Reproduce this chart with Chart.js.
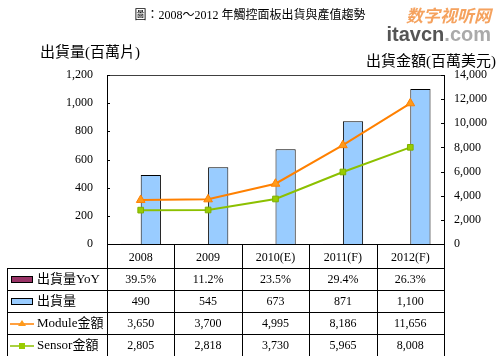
<!DOCTYPE html>
<html>
<head>
<meta charset="utf-8">
<script src="https://cdn.jsdelivr.net/npm/chart.js@4.4.1/dist/chart.umd.min.js"></script>
<style>
html,body{margin:0;padding:0;background:#fff;}
#wrap{width:500px;height:356px;position:relative;}
</style>
</head>
<body>
<div id="wrap"><canvas id="c" width="500" height="356"></canvas></div>
<script>
// ---- data ----
const categories = ['2008', '2009', '2010(E)', '2011(F)', '2012(F)'];
const yoyPct = [39.5, 11.2, 23.5, 29.4, 26.3];
const shipments = [490, 545, 673, 871, 1100];
const moduleValue = [3650, 3700, 4995, 8186, 11656];
const sensorValue = [2805, 2818, 3730, 5965, 8008];
const leftTicks = [0, 200, 400, 600, 800, 1000, 1200];
const rightTicks = [0, 2000, 4000, 6000, 8000, 10000, 12000, 14000];
const chartTitle = '圖：2008～2012 年觸控面板出貨與產值趨勢';
const leftTitle = '出貨量(百萬片)';
const rightTitle = '出貨金額(百萬美元)';
const rowLabels = ['出貨量YoY', '出貨量', 'Module金額', 'Sensor金額'];

const SERIF = '"Liberation Serif", "Times New Roman", "Noto Sans CJK TC", serif';
const fmt = v => v.toLocaleString('en-US');

const tablePlugin = {
  id: 'tablePlugin',
  afterDraw(chart) {
    const ctx = chart.ctx;
    const ca = chart.chartArea;
    const x = chart.scales.x, y = chart.scales.y, y1 = chart.scales.y1;
    ctx.save();
    // plot box top
    ctx.strokeStyle = '#404040';
    ctx.lineWidth = 1;
    ctx.beginPath();
    ctx.moveTo(ca.left, ca.top + 0.5); ctx.lineTo(ca.right, ca.top + 0.5);
    ctx.stroke();
    // inward ticks
    ctx.strokeStyle = '#000';
    ctx.beginPath();
    y.ticks.forEach((t, i) => {
      const py = Math.round(y.getPixelForTick(i)) + 0.5;
      ctx.moveTo(ca.left, py); ctx.lineTo(ca.left + 3, py);
    });
    y1.ticks.forEach((t, i) => {
      const py = Math.round(y1.getPixelForTick(i)) + 0.5;
      ctx.moveTo(ca.right - 3, py); ctx.lineTo(ca.right, py);
    });
    ctx.stroke();

    // table
    const tableLeft = 7.5;
    const headerTop = ca.bottom;
    const headerBottom = x.bottom;
    const rowH = 22;
    const rows = [
      yoyPct.map(v => v.toFixed(1) + '%'),
      shipments.map(fmt),
      moduleValue.map(fmt),
      sensorValue.map(fmt)
    ];
    const tableBottom = headerBottom + rowH * rows.length;
    const colW = (ca.right - ca.left) / categories.length;
    ctx.strokeStyle = '#000';
    ctx.lineWidth = 1;
    ctx.beginPath();
    for (let i = 0; i <= categories.length; i++) {
      const px = Math.round(ca.left + colW * i) + 0.5;
      ctx.moveTo(px, headerTop); ctx.lineTo(px, tableBottom);
    }
    ctx.moveTo(tableLeft, headerBottom); ctx.lineTo(tableLeft, tableBottom);
    for (let r = 0; r <= rows.length; r++) {
      const py = Math.round(headerBottom + rowH * r) + 0.5;
      ctx.moveTo(tableLeft, py); ctx.lineTo(ca.right, py);
    }
    ctx.stroke();

    // values
    ctx.fillStyle = '#000';
    ctx.textAlign = 'center';
    ctx.textBaseline = 'middle';
    ctx.font = '12px ' + SERIF;
    rows.forEach((row, r) => {
      const cy = headerBottom + rowH * r + rowH / 2 + 1;
      row.forEach((txt, i) => {
        ctx.fillText(txt, x.getPixelForValue(i), cy);
      });
    });
    // row labels and symbols
    ctx.textAlign = 'left';
    ctx.font = '13px ' + SERIF;
    rowLabels.forEach((lab, r) => {
      const cy = headerBottom + rowH * r + rowH / 2;
      ctx.fillStyle = '#000';
      ctx.fillText(lab, 37, cy + 1);
      const ds = chart.data.datasets[r];
      if (r < 2) {
        ctx.fillStyle = ds.backgroundColor;
        ctx.fillRect(11, cy - 3, 22, 7);
        ctx.strokeStyle = '#000';
        ctx.strokeRect(11.5, cy - 2.5, 21, 6);
      } else {
        ctx.strokeStyle = ds.borderColor;
        ctx.lineWidth = 1.5;
        ctx.beginPath();
        ctx.moveTo(10, cy + 1); ctx.lineTo(34, cy + 1);
        ctx.stroke();
        ctx.fillStyle = ds.pointBackgroundColor;
        ctx.beginPath();
        if (r === 2) {
          ctx.moveTo(22, cy - 3); ctx.lineTo(26, cy + 3); ctx.lineTo(18, cy + 3);
        } else {
          ctx.rect(19, cy - 2, 6, 6);
        }
        ctx.closePath();
        ctx.fill();
      }
    });

    // titles
    ctx.fillStyle = '#000';
    ctx.textBaseline = 'middle';
    ctx.textAlign = 'center';
    ctx.font = '12px ' + SERIF;
    ctx.fillText(chartTitle, 250, 16);
    ctx.font = '15px ' + SERIF;
    ctx.textAlign = 'left';
    ctx.fillText(leftTitle, 40, 53);
    ctx.textAlign = 'right';
    ctx.fillText(rightTitle, 496, 62);

    // watermark
    ctx.textAlign = 'right';
    ctx.font = 'italic bold 17px "Noto Sans CJK SC", sans-serif';
    ctx.fillStyle = '#F5A25E';
    ctx.fillText('数字视听网', 491, 16);
    ctx.font = 'bold 20px "Liberation Sans", Arial, sans-serif';
    const comW = ctx.measureText('.com').width;
    ctx.fillStyle = '#AAAAAA';
    ctx.fillText('.com', 491, 35);
    ctx.fillStyle = '#555555';
    ctx.fillText('itavcn', 491 - comW, 35);
    ctx.restore();
  }
};

new Chart(document.getElementById('c'), {
  data: {
    labels: categories,
    datasets: [
      {
        type: 'bar', label: rowLabels[0], data: yoyPct.map(v => v / 100),
        backgroundColor: '#993366', borderWidth: 0, yAxisID: 'y', order: 2,
        categoryPercentage: 0.6, barPercentage: 1.0
      },
      {
        type: 'bar', label: rowLabels[1], data: shipments,
        backgroundColor: '#99CCFF', borderColor: '#000', borderWidth: 1,
        yAxisID: 'y', order: 2, categoryPercentage: 0.6, barPercentage: 1.0
      },
      {
        type: 'line', label: rowLabels[2], data: moduleValue, yAxisID: 'y1', order: 0,
        borderColor: '#FF8000', backgroundColor: '#FF8000', borderWidth: 2,
        pointStyle: 'triangle', pointRadius: 5, pointBackgroundColor: '#FF9A1A',
        pointBorderColor: '#FF8000', pointBorderWidth: 1, tension: 0
      },
      {
        type: 'line', label: rowLabels[3], data: sensorValue, yAxisID: 'y1', order: 1,
        borderColor: '#8CC000', backgroundColor: '#8CC000', borderWidth: 2,
        pointStyle: 'rect', pointRadius: 4, pointBackgroundColor: '#99CC00',
        pointBorderColor: '#7FB000', pointBorderWidth: 1, tension: 0
      }
    ]
  },
  options: {
    responsive: false,
    animation: false,
    devicePixelRatio: 1,
    layout: { padding: { top: 75, left: 0, right: 0, bottom: 88 } },
    plugins: { legend: { display: false }, tooltip: { enabled: false }, title: { display: false } },
    scales: {
      x: {
        offset: true,
        grid: { display: false, drawTicks: false },
        border: { display: true, color: '#000' },
        ticks: { color: '#000', font: { family: SERIF, size: 12 }, padding: 7, maxRotation: 0, autoSkip: false },
        afterFit(s) { s.height = 24; }
      },
      y: {
        position: 'left', min: 0, max: leftTicks[leftTicks.length - 1],
        afterBuildTicks(s) { s.ticks = leftTicks.map(v => ({ value: v })); },
        grid: { display: false, drawTicks: false },
        border: { display: true, color: '#000' },
        ticks: { color: '#000', font: { family: SERIF, size: 12 }, padding: 14, callback: v => fmt(v) },
        afterFit(s) { s.width = 107; }
      },
      y1: {
        position: 'right', min: 0, max: rightTicks[rightTicks.length - 1],
        afterBuildTicks(s) { s.ticks = rightTicks.map(v => ({ value: v })); },
        grid: { display: false, drawTicks: false },
        border: { display: true, color: '#000' },
        ticks: { color: '#000', font: { family: SERIF, size: 12 }, padding: 10, callback: v => fmt(v) },
        afterFit(s) { s.width = 56; }
      }
    }
  },
  plugins: [tablePlugin]
});
</script>
</body>
</html>
